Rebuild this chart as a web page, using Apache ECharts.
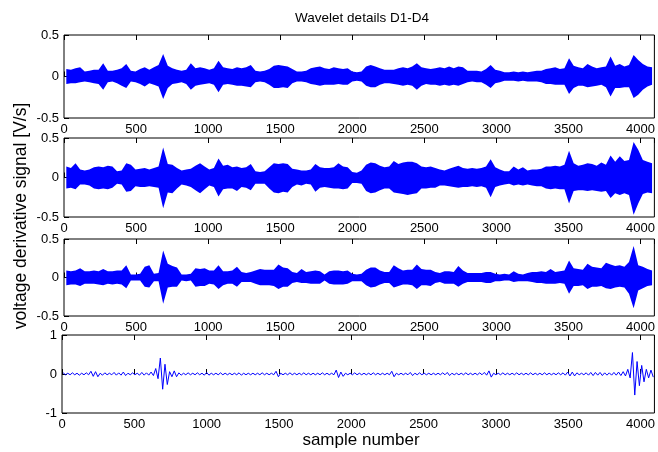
<!DOCTYPE html>
<html>
<head>
<meta charset="utf-8">
<script src="https://cdn.jsdelivr.net/npm/echarts@6/dist/echarts.min.js"></script>
<style>
  html, body { margin: 0; padding: 0; background: #fff; }
  #chart { width: 658px; height: 452px; }
</style>
</head>
<body>
<div id="chart"></div>
<script>
// Wavelet detail levels D1-D4 of a 4096-sample voltage-derivative record.
// Each level is stored as the per-block (32 samples) maximum and minimum.
const titleText = 'Wavelet details D1-D4';
const xAxisName = 'sample number';
const yAxisName = 'voltage derivative signal [V/s]';
const sampleCount = 4096;
const blockSize = 32;
const xTicks = [0, 500, 1000, 1500, 2000, 2500, 3000, 3500, 4000];
const yTicksD123 = [-0.5, 0, 0.5];
const yTicksD4 = [-1, 0, 1];

const d1Max = [0.09,0.08,0.10,0.11,0.06,0.07,0.08,0.08,0.16,0.07,0.07,0.08,0.10,0.15,0.07,0.06,0.09,0.11,0.08,0.11,0.14,0.27,0.13,0.10,0.08,0.07,0.08,0.16,0.10,0.11,0.10,
  0.08,0.10,0.19,0.11,0.10,0.09,0.11,0.10,0.11,0.14,0.07,0.06,0.07,0.09,0.13,0.14,0.13,0.12,0.09,0.06,0.06,0.07,0.10,0.11,0.12,0.10,0.09,0.11,0.10,0.09,0.10,
  0.06,0.05,0.06,0.12,0.14,0.12,0.10,0.08,0.08,0.08,0.10,0.11,0.10,0.12,0.16,0.11,0.10,0.09,0.10,0.11,0.10,0.12,0.10,0.12,0.11,0.07,0.07,0.07,0.06,0.09,0.14,
  0.08,0.07,0.05,0.05,0.06,0.05,0.06,0.05,0.06,0.07,0.07,0.09,0.10,0.11,0.09,0.10,0.22,0.13,0.11,0.10,0.15,0.12,0.10,0.11,0.12,0.24,0.13,0.15,0.12,0.14,0.26,0.20,0.15,0.12,0.11];
const d1Min = [-0.09,-0.08,-0.08,-0.07,-0.06,-0.07,-0.08,-0.09,-0.16,-0.07,-0.06,-0.08,-0.11,-0.14,-0.06,-0.07,-0.09,-0.12,-0.08,-0.10,-0.12,-0.27,-0.14,-0.09,-0.08,-0.07,-0.09,-0.16,-0.11,-0.10,-0.09,
  -0.08,-0.10,-0.19,-0.10,-0.09,-0.10,-0.11,-0.11,-0.12,-0.13,-0.07,-0.06,-0.07,-0.10,-0.14,-0.14,-0.13,-0.14,-0.08,-0.06,-0.06,-0.07,-0.09,-0.10,-0.11,-0.10,-0.10,-0.10,-0.09,-0.10,-0.10,
  -0.06,-0.05,-0.06,-0.11,-0.13,-0.13,-0.10,-0.08,-0.08,-0.09,-0.10,-0.11,-0.10,-0.11,-0.16,-0.11,-0.09,-0.10,-0.10,-0.11,-0.10,-0.11,-0.10,-0.11,-0.09,-0.07,-0.06,-0.07,-0.07,-0.10,-0.14,
  -0.08,-0.07,-0.05,-0.05,-0.05,-0.06,-0.05,-0.06,-0.06,-0.06,-0.07,-0.09,-0.09,-0.10,-0.10,-0.10,-0.21,-0.14,-0.11,-0.11,-0.13,-0.12,-0.11,-0.10,-0.13,-0.24,-0.14,-0.14,-0.13,-0.13,-0.26,-0.22,-0.16,-0.12,-0.10];

const d2Max = [0.14,0.12,0.18,0.10,0.09,0.10,0.13,0.14,0.13,0.15,0.14,0.08,0.09,0.18,0.16,0.10,0.11,0.12,0.10,0.12,0.14,0.38,0.17,0.16,0.12,0.09,0.10,0.11,0.15,0.18,0.14,
  0.10,0.12,0.24,0.15,0.16,0.13,0.14,0.12,0.13,0.17,0.08,0.07,0.08,0.13,0.18,0.17,0.18,0.17,0.11,0.10,0.09,0.09,0.10,0.17,0.13,0.12,0.12,0.13,0.18,0.14,0.13,
  0.07,0.06,0.09,0.16,0.19,0.18,0.15,0.13,0.14,0.21,0.17,0.19,0.20,0.20,0.18,0.14,0.13,0.14,0.12,0.10,0.09,0.11,0.13,0.15,0.12,0.11,0.12,0.11,0.12,0.14,0.23,
  0.13,0.10,0.08,0.08,0.14,0.10,0.13,0.09,0.10,0.10,0.11,0.14,0.14,0.15,0.14,0.16,0.34,0.18,0.15,0.16,0.18,0.17,0.15,0.19,0.16,0.28,0.20,0.27,0.21,0.22,0.45,0.35,0.22,0.20,0.18];
const d2Min = [-0.14,-0.13,-0.15,-0.09,-0.09,-0.10,-0.14,-0.15,-0.14,-0.15,-0.13,-0.08,-0.09,-0.18,-0.17,-0.11,-0.12,-0.12,-0.11,-0.12,-0.13,-0.39,-0.19,-0.20,-0.14,-0.09,-0.10,-0.12,-0.16,-0.20,-0.15,
  -0.10,-0.12,-0.24,-0.15,-0.14,-0.14,-0.17,-0.12,-0.13,-0.16,-0.08,-0.08,-0.08,-0.14,-0.19,-0.20,-0.18,-0.19,-0.12,-0.09,-0.10,-0.08,-0.09,-0.18,-0.13,-0.12,-0.13,-0.14,-0.14,-0.15,-0.14,
  -0.07,-0.07,-0.08,-0.17,-0.20,-0.19,-0.16,-0.14,-0.14,-0.19,-0.20,-0.21,-0.22,-0.21,-0.20,-0.14,-0.14,-0.13,-0.13,-0.10,-0.10,-0.11,-0.12,-0.13,-0.12,-0.12,-0.11,-0.12,-0.11,-0.13,-0.25,
  -0.12,-0.10,-0.09,-0.08,-0.10,-0.09,-0.10,-0.09,-0.10,-0.11,-0.11,-0.14,-0.15,-0.14,-0.15,-0.15,-0.33,-0.17,-0.16,-0.16,-0.17,-0.16,-0.17,-0.18,-0.17,-0.26,-0.20,-0.22,-0.20,-0.22,-0.47,-0.33,-0.21,-0.19,-0.20];

const d3Max = [0.09,0.08,0.09,0.12,0.08,0.08,0.09,0.08,0.11,0.08,0.08,0.09,0.09,0.16,0.04,0.04,0.05,0.14,0.16,0.05,0.06,0.35,0.18,0.15,0.13,0.04,0.04,0.05,0.12,0.11,0.12,
  0.09,0.09,0.16,0.08,0.08,0.09,0.14,0.07,0.06,0.07,0.09,0.11,0.10,0.10,0.10,0.17,0.13,0.12,0.07,0.06,0.11,0.07,0.08,0.09,0.08,0.04,0.08,0.09,0.09,0.08,0.09,
  0.05,0.04,0.05,0.10,0.13,0.13,0.09,0.07,0.07,0.16,0.12,0.09,0.10,0.10,0.17,0.11,0.10,0.10,0.07,0.06,0.08,0.08,0.07,0.15,0.09,0.06,0.06,0.06,0.06,0.07,0.07,
  0.05,0.04,0.05,0.04,0.08,0.05,0.04,0.06,0.07,0.07,0.08,0.07,0.11,0.07,0.08,0.09,0.22,0.12,0.11,0.10,0.18,0.14,0.13,0.12,0.19,0.17,0.15,0.16,0.14,0.20,0.41,0.16,0.14,0.11,0.09];
const d3Min = [-0.10,-0.09,-0.09,-0.11,-0.08,-0.08,-0.08,-0.09,-0.10,-0.08,-0.09,-0.08,-0.09,-0.14,-0.04,-0.04,-0.04,-0.12,-0.13,-0.05,-0.05,-0.34,-0.13,-0.12,-0.12,-0.04,-0.05,-0.04,-0.12,-0.11,-0.11,
  -0.08,-0.09,-0.15,-0.10,-0.08,-0.08,-0.12,-0.06,-0.06,-0.06,-0.08,-0.10,-0.10,-0.10,-0.11,-0.15,-0.12,-0.12,-0.07,-0.06,-0.07,-0.07,-0.08,-0.08,-0.08,-0.04,-0.08,-0.09,-0.09,-0.09,-0.08,
  -0.05,-0.05,-0.05,-0.10,-0.13,-0.12,-0.09,-0.07,-0.07,-0.13,-0.11,-0.09,-0.09,-0.10,-0.15,-0.10,-0.10,-0.11,-0.07,-0.06,-0.08,-0.08,-0.08,-0.12,-0.08,-0.06,-0.06,-0.06,-0.06,-0.07,-0.07,
  -0.05,-0.05,-0.04,-0.04,-0.06,-0.05,-0.05,-0.05,-0.06,-0.07,-0.07,-0.08,-0.08,-0.08,-0.07,-0.08,-0.21,-0.11,-0.11,-0.10,-0.15,-0.12,-0.12,-0.11,-0.14,-0.15,-0.13,-0.12,-0.13,-0.21,-0.40,-0.17,-0.14,-0.11,-0.10];

const d4Max = [0.03,0.02,0.03,0.02,0.02,0.03,0.07,0.06,0.02,0.03,0.02,0.04,0.03,0.05,0.02,0.03,0.02,0.04,0.03,0.05,0.14,0.41,0.25,0.06,0.08,0.03,0.02,0.03,0.02,0.03,0.02,
  0.04,0.02,0.02,0.03,0.02,0.02,0.02,0.03,0.02,0.02,0.02,0.02,0.03,0.02,0.02,0.07,0.02,0.02,0.03,0.02,0.02,0.03,0.02,0.02,0.02,0.03,0.02,0.02,0.10,0.05,0.02,
  0.02,0.03,0.02,0.02,0.02,0.03,0.02,0.02,0.02,0.07,0.02,0.02,0.02,0.04,0.02,0.03,0.02,0.02,0.02,0.02,0.03,0.04,0.02,0.02,0.02,0.03,0.02,0.02,0.03,0.04,0.08,
  0.02,0.02,0.03,0.02,0.02,0.03,0.02,0.02,0.03,0.02,0.02,0.03,0.02,0.02,0.03,0.03,0.05,0.05,0.03,0.02,0.03,0.04,0.04,0.04,0.03,0.03,0.04,0.05,0.06,0.12,0.55,0.32,0.22,0.12,0.10];
const d4Min = [-0.02,-0.02,-0.02,-0.03,-0.02,-0.02,-0.06,-0.07,-0.03,-0.02,-0.02,-0.03,-0.03,-0.04,-0.02,-0.02,-0.03,-0.03,-0.03,-0.04,-0.12,-0.39,-0.27,-0.07,-0.07,-0.03,-0.02,-0.02,-0.02,-0.02,-0.03,
  -0.03,-0.02,-0.02,-0.02,-0.02,-0.02,-0.02,-0.03,-0.02,-0.02,-0.02,-0.02,-0.02,-0.02,-0.02,-0.07,-0.02,-0.02,-0.02,-0.02,-0.02,-0.02,-0.02,-0.02,-0.02,-0.02,-0.02,-0.02,-0.09,-0.06,-0.02,
  -0.02,-0.02,-0.02,-0.02,-0.02,-0.02,-0.02,-0.02,-0.02,-0.07,-0.02,-0.02,-0.02,-0.04,-0.02,-0.02,-0.02,-0.02,-0.02,-0.02,-0.02,-0.04,-0.02,-0.02,-0.02,-0.02,-0.02,-0.02,-0.02,-0.03,-0.08,
  -0.02,-0.02,-0.02,-0.02,-0.02,-0.02,-0.02,-0.02,-0.02,-0.02,-0.02,-0.02,-0.02,-0.02,-0.02,-0.03,-0.05,-0.05,-0.02,-0.02,-0.03,-0.04,-0.03,-0.04,-0.03,-0.03,-0.03,-0.04,-0.05,-0.10,-0.54,-0.30,-0.20,-0.10,-0.08];

// Panel layout (pixel boxes of the four stacked axes).
// Dense levels D1-D3 are drawn as their envelope band, the sparse D4 as a trace.
const panels = [
  { maxs: d1Max, mins: d1Min, top: 35,  height: 83, left: 64, width: 596, lim: 0.5, ticks: yTicksD123, band: true },
  { maxs: d2Max, mins: d2Min, top: 138, height: 79, left: 64, width: 596, lim: 0.5, ticks: yTicksD123, band: true },
  { maxs: d3Max, mins: d3Min, top: 239, height: 77, left: 64, width: 596, lim: 0.5, ticks: yTicksD123, band: true },
  { maxs: d4Max, mins: d4Min, top: 335, height: 78, left: 62, width: 597, lim: 1,   ticks: yTicksD4,   band: false }
];

const BLUE = '#0000ff';

// Band rows: [sample position, block max, block min], one per block.
function bandRows(maxs, mins) {
  return maxs.map((v, k) => [k * blockSize + blockSize / 2, v, mins[k]]);
}

// Trace through each block's extremes: peak early in the block, trough late.
function traceOf(maxs, mins) {
  const pts = [];
  for (let k = 0; k < maxs.length; k++) {
    const start = k * blockSize;
    pts.push([start + blockSize / 4, maxs[k]]);
    pts.push([start + (3 * blockSize) / 4, mins[k]]);
  }
  return pts;
}

const FONT = 'Liberation Sans, Arial, Helvetica, sans-serif';
const labelColor = '#000';

const grid = [], xAxis = [], yAxis = [], series = [];
panels.forEach((p, i) => {
  grid.push({
    left: p.left, top: p.top, width: p.width, height: p.height,
    show: true, borderColor: '#000', borderWidth: 1, backgroundColor: '#fff'
  });
  const baseX = {
    type: 'value', gridIndex: i, min: 0, max: sampleCount, interval: 500,
    splitLine: { show: false },
    axisLine: { show: false },
    axisTick: { show: true, inside: true, length: 5, lineStyle: { color: '#000', width: 1 } }
  };
  xAxis.push(Object.assign({}, baseX, {
    position: 'bottom',
    axisLabel: {
      show: true, color: labelColor, fontFamily: FONT, fontSize: 13, margin: 5,
      showMaxLabel: false,
      formatter: v => (xTicks.includes(v) ? String(v) : '')
    }
  }));
  xAxis.push(Object.assign({}, baseX, {
    position: 'top',
    axisLabel: { show: false }
  }));
  yAxis.push({
    type: 'value', gridIndex: i, min: -p.lim, max: p.lim, interval: p.lim,
    splitLine: { show: false },
    axisLine: { show: false },
    axisTick: { show: true, inside: true, length: 5, lineStyle: { color: '#000', width: 1 } },
    axisLabel: {
      color: labelColor, fontFamily: FONT, fontSize: 13, margin: 5,
      formatter: v => (p.ticks.includes(v) ? String(v) : '')
    }
  });
  if (p.band) {
    const rows = bandRows(p.maxs, p.mins);
    series.push({
      type: 'custom', xAxisIndex: 2 * i, yAxisIndex: i,
      data: rows,
      encode: { x: 0, y: [1, 2] },
      silent: true, clip: true,
      renderItem: (params, api) => {
        // One closed outline: upper edge left to right, lower edge back.
        if (params.dataIndex !== 0) return null;
        const pts = [];
        rows.forEach(r => pts.push(api.coord([r[0], r[1]])));
        for (let j = rows.length - 1; j >= 0; j--) pts.push(api.coord([rows[j][0], rows[j][2]]));
        return {
          type: 'polygon',
          shape: { points: pts },
          style: { fill: BLUE, stroke: null, lineWidth: 0 }
        };
      }
    });
  } else {
    series.push({
      type: 'line', xAxisIndex: 2 * i, yAxisIndex: i,
      data: traceOf(p.maxs, p.mins),
      showSymbol: false, symbol: 'none', smooth: false, sampling: null,
      silent: true, clip: true,
      lineStyle: { color: BLUE, width: 1 }
    });
  }
});

const chart = echarts.init(document.getElementById('chart'), null, { renderer: 'canvas' });
chart.setOption({
  animation: false,
  backgroundColor: '#fff',
  grid, xAxis, yAxis, series,
  graphic: [
    {
      type: 'text', x: 362, y: 18,
      style: { text: titleText, font: '13.5px ' + FONT, fill: '#000', textAlign: 'center', textVerticalAlign: 'middle' }
    },
    {
      type: 'text', x: 361, y: 440,
      style: { text: xAxisName, font: '17px ' + FONT, fill: '#000', textAlign: 'center', textVerticalAlign: 'middle' }
    },
    {
      type: 'text', x: 21, y: 216, rotation: Math.PI / 2,
      style: { text: yAxisName, font: '17.5px ' + FONT, fill: '#000', textAlign: 'center', textVerticalAlign: 'middle' }
    }
  ]
});
</script>
</body>
</html>
